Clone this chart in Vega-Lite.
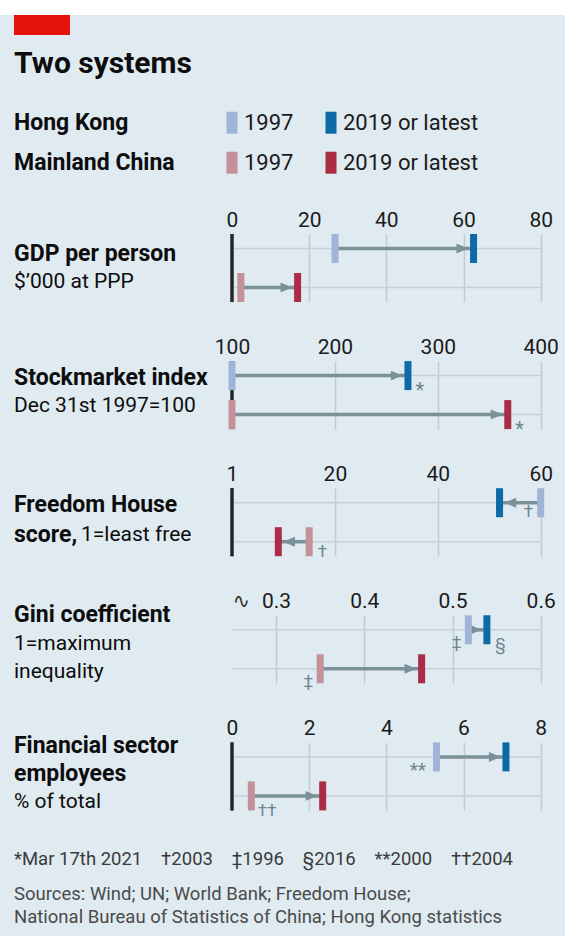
{
  "$schema": "https://vega.github.io/schema/vega-lite/v6.json",
  "background": "#e0eaf1",
  "padding": {"left": 0, "top": 0, "right": 30, "bottom": 40},
  "config": {
    "font": "Roboto",
    "view": {"stroke": null},
    "axisX": {"domain": false, "ticks": false, "tickSize": 0, "labelPadding": 3.5, "labelFontSize": 21, "labelColor": "#1a1a1a", "grid": true, "gridColor": "#c2cbd1", "gridWidth": 1.5, "labelFlush": false, "labelOverlap": false}
  },
  "title": {
    "text": "*Mar 17th 2021\u2003†2003\u2003‡1996\u2003§2016\u2003**2000\u2003††2004",
    "subtitle": ["Sources: Wind; UN; World Bank; Freedom House;", "National Bureau of Statistics of China; Hong Kong statistics"],
    "orient": "bottom", "anchor": "start", "offset": 31, "dx": 14,
    "fontSize": 18.5, "fontWeight": "normal", "color": "#3a3a3a",
    "subtitleFontSize": 18.5, "subtitleColor": "#4a4a4a", "subtitlePadding": 16, "subtitleLineHeight": 23.3
  },
  "spacing": 20,
  "vconcat": [
    {
      "width": 56, "height": 20,
      "data": {"values": [{}]},
      "encoding": {
        "x": {"datum": 0, "type": "quantitative", "scale": {"domain": [0, 1], "nice": false, "zero": false}, "axis": null},
        "x2": {"datum": 1},
        "y": {"datum": 1, "type": "quantitative", "scale": {"domain": [0, 1], "nice": false, "zero": false}, "axis": null},
        "y2": {"datum": 0}
      },
      "layer": [
        {"mark": {"type": "rect", "color": "#ffffff", "xOffset": -232, "x2Offset": 277, "yOffset": -15, "y2Offset": -20}},
        {"mark": {"type": "rect", "color": "#e3120b", "xOffset": -218, "x2Offset": -218}}
      ],
      "title": {"text": "Two systems", "orient": "bottom", "anchor": "start", "frame": "group", "offset": 14, "dx": -218, "fontSize": 30, "fontWeight": "bold", "color": "#0d0d0d"}
    },
    {
      "width": 99, "height": 89.4,
      "data": {"values": [
        {"region": "Hong Kong", "year": "1997"},
        {"region": "Hong Kong", "year": "2019 or latest"},
        {"region": "Mainland China", "year": "1997"},
        {"region": "Mainland China", "year": "2019 or latest"}
      ]},
      "encoding": {
        "x": {"field": "year", "type": "nominal", "scale": {"type": "point", "padding": 0}, "axis": null},
        "y": {"field": "region", "type": "nominal", "scale": {"type": "point", "padding": 0.6175, "align": 0.48}, "axis": null}
      },
      "layer": [
        {"mark": {"type": "tick", "orient": "vertical", "thickness": 11, "size": 22, "opacity": 1},
         "encoding": {"color": {"condition": [
           {"test": "datum.region === 'Hong Kong' && datum.year === '1997'", "value": "#a0b4d8"},
           {"test": "datum.region === 'Hong Kong'", "value": "#0d6aa6"},
           {"test": "datum.year === '1997'", "value": "#c4919b"}
         ], "value": "#aa2c45"}}},
        {"mark": {"type": "text", "align": "left", "baseline": "middle", "dx": 12, "fontSize": 22, "color": "#1a1a1a"},
         "encoding": {"text": {"field": "year"}}},
        {"transform": [{"filter": "datum.year === '1997'"}],
         "mark": {"type": "text", "align": "left", "baseline": "middle", "dx": -218, "fontSize": 23, "fontWeight": "bold", "color": "#0d0d0d"},
         "encoding": {"text": {"field": "region"}}}
      ]
    },
    {
      "bounds": "flush",
      "spacing": 59.1,
      "vconcat": [
        {
          "width": 308.7, "height": 68,
          "data": {"values": [
            {"row": "Hong Kong", "start": 26.7, "end": 62.6},
            {"row": "Mainland China", "start": 2.3, "end": 17.0}
          ]},
          "resolve": {"scale": {"y": "independent"}},
          "layer": [
            {"layer": [
              {"mark": {"type": "rule", "color": "#c7cfd5", "strokeWidth": 1.5},
               "encoding": {"y": {"field": "row", "type": "nominal", "scale": {"type": "point", "domain": ["Hong Kong", "Mainland China"], "padding": 0.372}, "axis": null}}},
              {"mark": {"type": "rule", "color": "#262626", "strokeWidth": 3},
               "encoding": {"x": {"datum": 0, "type": "quantitative", "title": null, "scale": {"domain": [0, 80], "nice": false, "zero": false}, "axis": {"orient": "top", "values": [0, 20, 40, 60, 80]}}}},
              {"mark": {"type": "rule", "color": "#7a9199", "strokeWidth": 3.5},
               "encoding": {"x": {"field": "start", "type": "quantitative", "title": null}, "x2": {"field": "end"}, "y": {"field": "row", "type": "nominal", "axis": null}}},
              {"mark": {"type": "point", "shape": "M-1,-0.85L1,0L-1,0.85Z", "size": 137, "filled": true, "opacity": 1, "color": "#7a9199", "xOffset": -11.2},
               "encoding": {"x": {"field": "end", "type": "quantitative", "title": null}, "y": {"field": "row", "type": "nominal", "axis": null}}},
              {"mark": {"type": "tick", "thickness": 7, "size": 29, "opacity": 1},
               "encoding": {"x": {"field": "start", "type": "quantitative", "title": null}, "y": {"field": "row", "type": "nominal", "axis": null},
                 "color": {"condition": {"test": "datum.row === 'Hong Kong'", "value": "#a0b4d8"}, "value": "#c4919b"}}},
              {"mark": {"type": "tick", "thickness": 7, "size": 29, "opacity": 1},
               "encoding": {"x": {"field": "end", "type": "quantitative", "title": null}, "y": {"field": "row", "type": "nominal", "axis": null},
                 "color": {"condition": {"test": "datum.row === 'Hong Kong'", "value": "#0d6aa6"}, "value": "#aa2c45"}}}
            ]},
            {
              "data": {"values": [
                {"line": 1, "text": "GDP per person", "role": "name"},
                {"line": 2, "text": "$’000 at PPP", "role": "unit"}
              ]},
              "encoding": {
                "x": {"datum": 0, "type": "quantitative", "title": null},
                "y": {"field": "line", "type": "ordinal", "scale": {"type": "point", "domain": [1, 2], "padding": 0.7014, "align": 0.504}, "axis": null},
                "text": {"field": "text"}
              },
              "layer": [
                {"transform": [{"filter": "datum.role === 'name'"}], "mark": {"type": "text", "align": "left", "baseline": "middle", "dx": -218, "fontSize": 23, "fontWeight": "bold", "color": "#0d0d0d"}},
                {"transform": [{"filter": "datum.role === 'unit'"}], "mark": {"type": "text", "align": "left", "baseline": "middle", "dx": -218, "fontSize": 21, "color": "#0d0d0d"}}
              ]
            }
          ]
        },
        {
          "width": 308.7, "height": 68,
          "data": {"values": [
            {"row": "Hong Kong", "start": 100, "end": 271, "endNote": "*"},
            {"row": "Mainland China", "start": 100, "end": 368, "endNote": "*"}
          ]},
          "resolve": {"scale": {"y": "independent"}},
          "layer": [
            {"layer": [
              {"mark": {"type": "rule", "color": "#c7cfd5", "strokeWidth": 1.5},
               "encoding": {"y": {"field": "row", "type": "nominal", "scale": {"type": "point", "domain": ["Hong Kong", "Mainland China"], "padding": 0.372}, "axis": null}}},
              {"mark": {"type": "rule", "color": "#262626", "strokeWidth": 3},
               "encoding": {"x": {"datum": 100, "type": "quantitative", "title": null, "scale": {"domain": [100, 400], "nice": false, "zero": false}, "axis": {"orient": "top", "values": [100, 200, 300, 400]}}}},
              {"mark": {"type": "rule", "color": "#7a9199", "strokeWidth": 3.5},
               "encoding": {"x": {"field": "start", "type": "quantitative", "title": null}, "x2": {"field": "end"}, "y": {"field": "row", "type": "nominal", "axis": null}}},
              {"mark": {"type": "point", "shape": "M-1,-0.85L1,0L-1,0.85Z", "size": 137, "filled": true, "opacity": 1, "color": "#7a9199", "xOffset": -11.2},
               "encoding": {"x": {"field": "end", "type": "quantitative", "title": null}, "y": {"field": "row", "type": "nominal", "axis": null}}},
              {"mark": {"type": "tick", "thickness": 7, "size": 29, "opacity": 1},
               "encoding": {"x": {"field": "start", "type": "quantitative", "title": null}, "y": {"field": "row", "type": "nominal", "axis": null},
                 "color": {"condition": {"test": "datum.row === 'Hong Kong'", "value": "#a0b4d8"}, "value": "#c4919b"}}},
              {"mark": {"type": "tick", "thickness": 7, "size": 29, "opacity": 1},
               "encoding": {"x": {"field": "end", "type": "quantitative", "title": null}, "y": {"field": "row", "type": "nominal", "axis": null},
                 "color": {"condition": {"test": "datum.row === 'Hong Kong'", "value": "#0d6aa6"}, "value": "#aa2c45"}}},
              {"transform": [{"filter": "datum.endNote"}],
               "mark": {"type": "text", "align": "left", "baseline": "alphabetic", "dx": 7.5, "dy": 21, "fontSize": 20, "color": "#6b8692"},
               "encoding": {"x": {"field": "end", "type": "quantitative", "title": null}, "y": {"field": "row", "type": "nominal", "axis": null}, "text": {"field": "endNote"}}}
            ]},
            {
              "data": {"values": [
                {"line": 1, "text": "Stockmarket index", "role": "name"},
                {"line": 2, "text": "Dec 31st 1997=100", "role": "unit"}
              ]},
              "encoding": {
                "x": {"datum": 100, "type": "quantitative", "title": null},
                "y": {"field": "line", "type": "ordinal", "scale": {"type": "point", "domain": [1, 2], "padding": 0.7014, "align": 0.42}, "axis": null},
                "text": {"field": "text"}
              },
              "layer": [
                {"transform": [{"filter": "datum.role === 'name'"}], "mark": {"type": "text", "align": "left", "baseline": "middle", "dx": -218, "fontSize": 23, "fontWeight": "bold", "color": "#0d0d0d"}},
                {"transform": [{"filter": "datum.role === 'unit'"}], "mark": {"type": "text", "align": "left", "baseline": "middle", "dx": -218, "fontSize": 21, "color": "#0d0d0d"}}
              ]
            }
          ]
        },
        {
          "width": 308.7, "height": 68,
          "data": {"values": [
            {"row": "Hong Kong", "start": 60, "end": 52, "startNote": "†"},
            {"row": "Mainland China", "start": 15, "end": 9, "startNote": "†"}
          ]},
          "resolve": {"scale": {"y": "independent"}},
          "layer": [
            {"layer": [
              {"mark": {"type": "rule", "color": "#c7cfd5", "strokeWidth": 1.5},
               "encoding": {"y": {"field": "row", "type": "nominal", "scale": {"type": "point", "domain": ["Hong Kong", "Mainland China"], "padding": 0.372}, "axis": null}}},
              {"mark": {"type": "rule", "color": "#262626", "strokeWidth": 3},
               "encoding": {"x": {"datum": 0, "type": "quantitative", "title": null, "scale": {"domain": [0, 60], "nice": false, "zero": false}, "axis": {"orient": "top", "values": [0, 20, 40, 60], "labelExpr": "datum.value === 0 ? '1' : datum.label"}}}},
              {"mark": {"type": "rule", "color": "#7a9199", "strokeWidth": 3.5},
               "encoding": {"x": {"field": "start", "type": "quantitative", "title": null}, "x2": {"field": "end"}, "y": {"field": "row", "type": "nominal", "axis": null}}},
              {"mark": {"type": "point", "shape": "M1,-0.85L-1,0L1,0.85Z", "size": 137, "filled": true, "opacity": 1, "color": "#7a9199", "xOffset": 10.8},
               "encoding": {"x": {"field": "end", "type": "quantitative", "title": null}, "y": {"field": "row", "type": "nominal", "axis": null}}},
              {"mark": {"type": "tick", "thickness": 7, "size": 29, "opacity": 1},
               "encoding": {"x": {"field": "start", "type": "quantitative", "title": null}, "y": {"field": "row", "type": "nominal", "axis": null},
                 "color": {"condition": {"test": "datum.row === 'Hong Kong'", "value": "#a0b4d8"}, "value": "#c4919b"}}},
              {"mark": {"type": "tick", "thickness": 7, "size": 29, "opacity": 1},
               "encoding": {"x": {"field": "end", "type": "quantitative", "title": null}, "y": {"field": "row", "type": "nominal", "axis": null},
                 "color": {"condition": {"test": "datum.row === 'Hong Kong'", "value": "#0d6aa6"}, "value": "#aa2c45"}}},
              {"transform": [{"filter": "datum.row === 'Hong Kong'"}],
               "mark": {"type": "text", "align": "right", "baseline": "alphabetic", "dx": -7.6, "dy": 14.5, "fontSize": 17, "color": "#6b8692"},
               "encoding": {"x": {"field": "start", "type": "quantitative", "title": null}, "y": {"field": "row", "type": "nominal", "axis": null}, "text": {"field": "startNote"}}},
              {"transform": [{"filter": "datum.row === 'Mainland China'"}],
               "mark": {"type": "text", "align": "left", "baseline": "alphabetic", "dx": 8.5, "dy": 15.7, "fontSize": 17, "color": "#6b8692"},
               "encoding": {"x": {"field": "start", "type": "quantitative", "title": null}, "y": {"field": "row", "type": "nominal", "axis": null}, "text": {"field": "startNote"}}}
            ]},
            {
              "data": {"values": [
                {"line": 1, "text": "Freedom House", "role": "name"},
                {"line": 2, "text": "score,", "role": "name"},
                {"line": 2, "text": "1=least free", "role": "unit"}
              ]},
              "encoding": {
                "x": {"datum": 0, "type": "quantitative", "title": null},
                "y": {"field": "line", "type": "ordinal", "scale": {"type": "point", "domain": [1, 2], "padding": 0.622, "align": 0.443}, "axis": null},
                "text": {"field": "text"}
              },
              "layer": [
                {"transform": [{"filter": "datum.role === 'name'"}], "mark": {"type": "text", "align": "left", "baseline": "middle", "dx": -218, "fontSize": 23, "fontWeight": "bold", "color": "#0d0d0d"}},
                {"transform": [{"filter": "datum.role === 'unit'"}], "mark": {"type": "text", "align": "left", "baseline": "middle", "dx": -151, "fontSize": 21, "color": "#0d0d0d"}}
              ]
            }
          ]
        },
        {
          "width": 308.7, "height": 68,
          "data": {"values": [
            {"row": "Hong Kong", "start": 0.518, "end": 0.539, "startNote": "‡", "endNote": "§"},
            {"row": "Mainland China", "start": 0.35, "end": 0.465, "startNote": "‡"}
          ]},
          "resolve": {"scale": {"y": "independent"}},
          "layer": [
            {"layer": [
              {"mark": {"type": "rule", "color": "#c7cfd5", "strokeWidth": 1.5},
               "encoding": {"y": {"field": "row", "type": "nominal", "scale": {"type": "point", "domain": ["Hong Kong", "Mainland China"], "padding": 0.372}, "axis": null}}},
              {"mark": {"type": "rule", "color": "#7a9199", "strokeWidth": 3.5},
               "encoding": {"x": {"field": "start", "type": "quantitative", "title": null, "scale": {"domain": [0.25, 0.6], "nice": false, "zero": false},
                 "axis": {"orient": "top", "values": [0.25, 0.3, 0.4, 0.5, 0.6],
                   "labelExpr": "datum.value < 0.26 ? '∿' : format(datum.value, '.1f')",
                   "labelAlign": {"condition": {"test": "datum.value < 0.26", "value": "left"}, "value": "center"},
                   "labelFont": {"condition": {"test": "datum.value < 0.26", "value": "DejaVu Sans"}, "value": "Roboto"},
                   "labelColor": {"condition": {"test": "datum.value < 0.26", "value": "#333333"}, "value": "#1a1a1a"},
                   "gridOpacity": {"condition": {"test": "datum.value < 0.26", "value": 0}, "value": 1}}},
                 "x2": {"field": "end"}, "y": {"field": "row", "type": "nominal", "axis": null}}},
              {"mark": {"type": "point", "shape": "M-1,-0.85L1,0L-1,0.85Z", "size": 137, "filled": true, "opacity": 1, "color": "#7a9199", "xOffset": -11.2},
               "encoding": {"x": {"field": "end", "type": "quantitative", "title": null}, "y": {"field": "row", "type": "nominal", "axis": null}}},
              {"mark": {"type": "tick", "thickness": 7, "size": 29, "opacity": 1},
               "encoding": {"x": {"field": "start", "type": "quantitative", "title": null}, "y": {"field": "row", "type": "nominal", "axis": null},
                 "color": {"condition": {"test": "datum.row === 'Hong Kong'", "value": "#a0b4d8"}, "value": "#c4919b"}}},
              {"mark": {"type": "tick", "thickness": 7, "size": 29, "opacity": 1},
               "encoding": {"x": {"field": "end", "type": "quantitative", "title": null}, "y": {"field": "row", "type": "nominal", "axis": null},
                 "color": {"condition": {"test": "datum.row === 'Hong Kong'", "value": "#0d6aa6"}, "value": "#aa2c45"}}},
              {"transform": [{"filter": "datum.startNote"}],
               "mark": {"type": "text", "align": "right", "baseline": "alphabetic", "dx": -7, "dy": 18, "fontSize": 17, "color": "#6b8692"},
               "encoding": {"x": {"field": "start", "type": "quantitative", "title": null}, "y": {"field": "row", "type": "nominal", "axis": null}, "text": {"field": "startNote"}}},
              {"transform": [{"filter": "datum.endNote"}],
               "mark": {"type": "text", "align": "left", "baseline": "alphabetic", "dx": 8.3, "dy": 20, "fontSize": 17, "color": "#6b8692"},
               "encoding": {"x": {"field": "end", "type": "quantitative", "title": null}, "y": {"field": "row", "type": "nominal", "axis": null}, "text": {"field": "endNote"}}}
            ]},
            {
              "data": {"values": [
                {"line": 1, "text": "Gini coefficient", "role": "name"},
                {"line": 2, "text": "1=maximum", "role": "unit"},
                {"line": 3, "text": "inequality", "role": "unit"}
              ]},
              "encoding": {
                "x": {"datum": 0.25, "type": "quantitative", "title": null},
                "y": {"field": "line", "type": "ordinal", "scale": {"type": "point", "domain": [1, 2, 3], "padding": 0.193, "align": 0}, "axis": null},
                "text": {"field": "text"}
              },
              "layer": [
                {"transform": [{"filter": "datum.role === 'name'"}], "mark": {"type": "text", "align": "left", "baseline": "middle", "dx": -218, "fontSize": 23, "fontWeight": "bold", "color": "#0d0d0d"}},
                {"transform": [{"filter": "datum.role === 'unit'"}], "mark": {"type": "text", "align": "left", "baseline": "middle", "dx": -218, "fontSize": 21, "color": "#0d0d0d"}}
              ]
            }
          ]
        },
        {
          "width": 308.7, "height": 68,
          "data": {"values": [
            {"row": "Hong Kong", "start": 5.3, "end": 7.1, "startNote": "**"},
            {"row": "Mainland China", "start": 0.5, "end": 2.35, "startNote": "††"}
          ]},
          "resolve": {"scale": {"y": "independent"}},
          "layer": [
            {"layer": [
              {"mark": {"type": "rule", "color": "#c7cfd5", "strokeWidth": 1.5},
               "encoding": {"y": {"field": "row", "type": "nominal", "scale": {"type": "point", "domain": ["Hong Kong", "Mainland China"], "padding": 0.372}, "axis": null}}},
              {"mark": {"type": "rule", "color": "#262626", "strokeWidth": 3},
               "encoding": {"x": {"datum": 0, "type": "quantitative", "title": null, "scale": {"domain": [0, 8], "nice": false, "zero": false}, "axis": {"orient": "top", "values": [0, 2, 4, 6, 8]}}}},
              {"mark": {"type": "rule", "color": "#7a9199", "strokeWidth": 3.5},
               "encoding": {"x": {"field": "start", "type": "quantitative", "title": null}, "x2": {"field": "end"}, "y": {"field": "row", "type": "nominal", "axis": null}}},
              {"mark": {"type": "point", "shape": "M-1,-0.85L1,0L-1,0.85Z", "size": 137, "filled": true, "opacity": 1, "color": "#7a9199", "xOffset": -11.2},
               "encoding": {"x": {"field": "end", "type": "quantitative", "title": null}, "y": {"field": "row", "type": "nominal", "axis": null}}},
              {"mark": {"type": "tick", "thickness": 7, "size": 29, "opacity": 1},
               "encoding": {"x": {"field": "start", "type": "quantitative", "title": null}, "y": {"field": "row", "type": "nominal", "axis": null},
                 "color": {"condition": {"test": "datum.row === 'Hong Kong'", "value": "#a0b4d8"}, "value": "#c4919b"}}},
              {"mark": {"type": "tick", "thickness": 7, "size": 29, "opacity": 1},
               "encoding": {"x": {"field": "end", "type": "quantitative", "title": null}, "y": {"field": "row", "type": "nominal", "axis": null},
                 "color": {"condition": {"test": "datum.row === 'Hong Kong'", "value": "#0d6aa6"}, "value": "#aa2c45"}}},
              {"transform": [{"filter": "datum.row === 'Hong Kong'"}],
               "mark": {"type": "text", "align": "right", "baseline": "alphabetic", "dx": -10.5, "dy": 19.5, "fontSize": 19, "color": "#6b8692"},
               "encoding": {"x": {"field": "start", "type": "quantitative", "title": null}, "y": {"field": "row", "type": "nominal", "axis": null}, "text": {"field": "startNote"}}},
              {"transform": [{"filter": "datum.row === 'Mainland China'"}],
               "mark": {"type": "text", "align": "left", "baseline": "alphabetic", "dx": 6.5, "dy": 20.6, "fontSize": 17, "color": "#6b8692"},
               "encoding": {"x": {"field": "start", "type": "quantitative", "title": null}, "y": {"field": "row", "type": "nominal", "axis": null}, "text": {"field": "startNote"}}}
            ]},
            {
              "data": {"values": [
                {"line": 1, "text": "Financial sector", "role": "name"},
                {"line": 2, "text": "employees", "role": "name"},
                {"line": 3, "text": "% of total", "role": "unit"}
              ]},
              "encoding": {
                "x": {"datum": 0, "type": "quantitative", "title": null},
                "y": {"field": "line", "type": "ordinal", "scale": {"type": "point", "domain": [1, 2, 3], "padding": 0.208, "align": 0.29}, "axis": null},
                "text": {"field": "text"}
              },
              "layer": [
                {"transform": [{"filter": "datum.role === 'name'"}], "mark": {"type": "text", "align": "left", "baseline": "middle", "dx": -218, "fontSize": 23, "fontWeight": "bold", "color": "#0d0d0d"}},
                {"transform": [{"filter": "datum.role === 'unit'"}], "mark": {"type": "text", "align": "left", "baseline": "middle", "dx": -218, "fontSize": 21, "color": "#0d0d0d"}}
              ]
            }
          ]
        }
      ]
    }
  ]
}
